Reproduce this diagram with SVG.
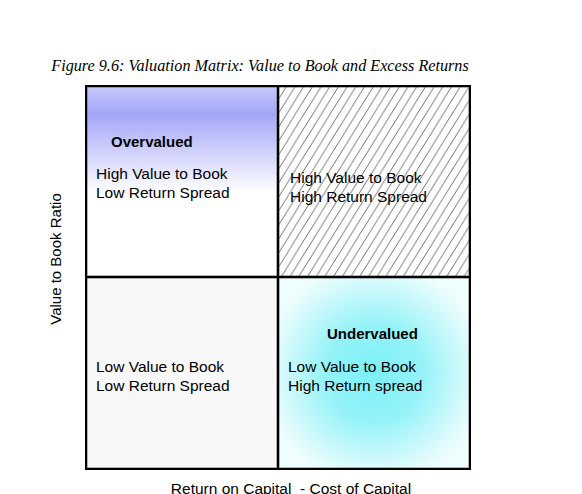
<svg xmlns="http://www.w3.org/2000/svg" width="582" height="494" viewBox="0 0 582 494">
<style>
.t{font-family:"Liberation Sans",Arial,sans-serif;font-size:15.5px;fill:#000}
.b{font-weight:bold;font-size:15px}
.cell{stroke:#666;stroke-width:1}
</style>
<defs>
<linearGradient id="gBlue" x1="0" y1="0" x2="0" y2="1">
<stop offset="0" stop-color="#c6c8fc"/>
<stop offset="0.14" stop-color="#a3a6f8"/>
<stop offset="0.56" stop-color="#ffffff"/>
<stop offset="1" stop-color="#ffffff"/>
</linearGradient>
<radialGradient id="gCyan" cx="0.5" cy="0.5" r="0.58">
<stop offset="0" stop-color="#7cf0f8"/>
<stop offset="0.45" stop-color="#96f3f8"/>
<stop offset="0.85" stop-color="#d8fafc"/>
<stop offset="1" stop-color="#eefdfd"/>
</radialGradient>
<pattern id="hatch" patternUnits="userSpaceOnUse" width="8.7" height="14" patternTransform="translate(278,86)">
<line x1="-8.7" y1="14" x2="8.7" y2="-14" stroke="#333" stroke-width="0.7"/>
<line x1="0" y1="14" x2="8.7" y2="0" stroke="#333" stroke-width="0.7"/>
<line x1="0" y1="28" x2="17.4" y2="0" stroke="#333" stroke-width="0.7"/>
</pattern>
</defs>
<text x="260" y="71" text-anchor="middle" style="font-family:'Liberation Serif','Times New Roman',serif;font-style:italic;font-size:16.2px" fill="#000">Figure 9.6: Valuation Matrix: Value to Book and Excess Returns</text>
<g id="overvalued">
<rect class="cell" x="87" y="87" width="190" height="189" fill="url(#gBlue)"/>
<text class="t b" x="111" y="147">Overvalued</text>
<text class="t" x="96" y="179">High Value to Book</text>
<text class="t" x="96" y="198">Low Return Spread</text>
</g>
<g id="high-high">
<rect class="cell" x="279" y="87" width="190" height="189" fill="#fff"/>
<rect x="279" y="87" width="190" height="189" fill="url(#hatch)"/>
<text class="t" x="290" y="183">High Value to Book</text>
<text class="t" x="290" y="202">High Return Spread</text>
</g>
<g id="low-low">
<rect class="cell" x="87" y="278" width="190" height="190" fill="#f8f8f8"/>
<text class="t" x="96" y="372">Low Value to Book</text>
<text class="t" x="96" y="391">Low Return Spread</text>
</g>
<g id="undervalued">
<rect class="cell" x="279" y="278" width="190" height="190" fill="url(#gCyan)"/>
<text class="t b" x="327" y="339">Undervalued</text>
<text class="t" x="288" y="372">Low Value to Book</text>
<text class="t" x="288" y="391">High Return spread</text>
</g>
<g id="connectors" fill="none" stroke="#000" stroke-width="2">
<rect x="86" y="86" width="384" height="383"/>
<line x1="278" y1="86" x2="278" y2="469"/>
<line x1="86" y1="277" x2="470" y2="277"/>
</g>
<text class="t" transform="translate(61,259) rotate(-90)" text-anchor="middle" style="font-size:15px" fill="#333">Value to Book Ratio</text>
<text class="t" x="291" y="494" text-anchor="middle" style="font-size:15.5px;white-space:pre" xml:space="preserve">Return on Capital  - Cost of Capital</text>
</svg>
